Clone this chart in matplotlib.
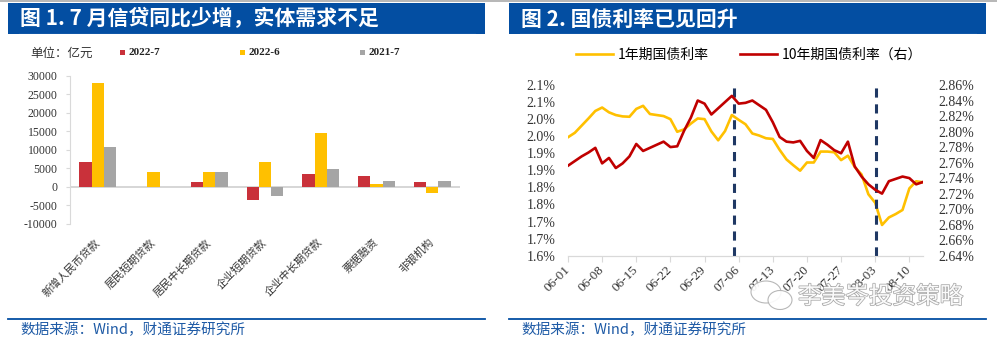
import numpy as np
import pandas as pd
import matplotlib
matplotlib.use('Agg')
import matplotlib.pyplot as plt
from matplotlib.patches import Rectangle, Ellipse
from matplotlib.lines import Line2D
import matplotlib.patheffects as pe

plt.rcParams['font.family'] = ['Noto Sans CJK SC', 'DejaVu Sans']

W, H = 997, 343

# ---- 图1 数据（亿元）----
categories = ['新增人民币贷款', '居民短期贷款', '居民中长期贷款', '企业短期贷款',
              '企业中长期贷款', '票据融资', '非银机构']
loan_2022_7 = [6790, -21, 1238, -3500, 3446, 2960, 1350]
loan_2022_6 = [28100, 4110, 4150, 6800, 14574, 760, -1700]
loan_2021_7 = [10800, -64, 3990, -2500, 4775, 1700, 1700]
series_names = ['2022-7', '2022-6', '2021-7']
bar_colors = ['#C9313A', '#FFC000', '#A5A5A5']

# ---- 图2 数据（%）----
dates = pd.bdate_range('2022-06-01', '2022-08-12')
yield_1y = [1.947, 1.960, 1.981, 2.002, 2.024, 2.034, 2.020, 2.012, 2.008, 2.007,
            2.030, 2.039, 2.015, 2.012, 2.009, 2.000, 1.963, 1.970, 1.987, 2.002,
            2.000, 1.964, 1.938, 1.965, 2.012, 1.998, 1.985, 1.958, 1.952, 1.944,
            1.942, 1.910, 1.882, 1.865, 1.849, 1.873, 1.873, 1.905, 1.905, 1.903,
            1.880, 1.893, 1.860, 1.838, 1.780, 1.755, 1.690, 1.712, 1.722, 1.734,
            1.797, 1.818, 1.815]
yield_10y = [2.756, 2.762, 2.768, 2.773, 2.779, 2.759, 2.766, 2.753, 2.759, 2.768,
             2.784, 2.775, 2.779, 2.783, 2.787, 2.780, 2.781, 2.801, 2.818, 2.840,
             2.836, 2.822, 2.830, 2.838, 2.846, 2.836, 2.837, 2.840, 2.834, 2.828,
             2.812, 2.793, 2.787, 2.786, 2.788, 2.775, 2.766, 2.789, 2.783, 2.776,
             2.772, 2.787, 2.755, 2.742, 2.732, 2.725, 2.720, 2.736, 2.739, 2.742,
             2.740, 2.732, 2.735]
left_ticks = [1.60, 1.65, 1.70, 1.75, 1.80, 1.85, 1.90, 1.95, 2.00, 2.05, 2.10]
left_labels = ['1.6%', '1.7%', '1.7%', '1.8%', '1.8%', '1.9%', '1.9%',
               '2.0%', '2.0%', '2.1%', '2.1%']
right_ticks = [2.64, 2.66, 2.68, 2.70, 2.72, 2.74, 2.76, 2.78, 2.80, 2.82, 2.84, 2.86]
vline_idx = [24.3, 45.1]


def fx(x):
    return x / W


def fy(y):
    return 1 - y / H


fig = plt.figure(figsize=(W / 100, H / 100), dpi=100)
fig.patch.set_facecolor('white')

serif = 'Liberation Serif'
blue = '#034EA2'
src_blue = '#1F5BA6'

# top grey strip
fig.patches.append(Rectangle((0, fy(2)), 1, 2 / H, transform=fig.transFigure,
                             color='#B8B8B8', lw=0))

# headers + footers
for x0, x1, title in [(8, 485, '图 1. 7 月信贷同比少增，实体需求不足'),
                      (509, 986, '图 2. 国债利率已见回升')]:
    fig.patches.append(Rectangle((fx(x0), fy(34)), (x1 - x0) / W, 31 / H,
                                 transform=fig.transFigure, color=blue, lw=0))
    fig.lines.append(Line2D([fx(x0 + 11), fx(x1 - 10)], [fy(33.5), fy(33.5)],
                            transform=fig.transFigure, color='white', lw=0.8))
    fig.text(fx(x0 + 12), fy(19), title, color='white', fontsize=15,
             fontweight='bold', va='center', ha='left')
    fig.lines.append(Line2D([fx(x0), fx(x1)], [fy(319), fy(319)],
                            transform=fig.transFigure, color=blue, lw=1.3))
    fig.text(fx(x0 + 12), fy(330), '数据来源：Wind，财通证券研究所', color=src_blue,
             fontsize=10.5, fontweight='medium', va='center', ha='left')

# ================= 图1 柱状图 =================
ax1 = fig.add_axes([fx(70), fy(224), 390 / W, (224 - 75.7) / H])
xpos = np.arange(len(categories))
bw = 0.22
for k, vals in enumerate([loan_2022_7, loan_2022_6, loan_2021_7]):
    ax1.bar(xpos + (k - 1) * bw, vals, width=bw, color=bar_colors[k], zorder=3)
ax1.axhline(0, color='#D0D0D0', lw=1.2, zorder=2)
ax1.set_xlim(-0.5, len(categories) - 0.5)
ax1.set_ylim(-10000, 30000)
ax1.set_yticks(np.arange(-10000, 30001, 5000))
ax1.set_yticklabels([str(v) for v in range(-10000, 30001, 5000)],
                    fontfamily=serif, fontsize=8.5, color='#333333')
ax1.set_xticks(xpos)
ax1.set_xticklabels(categories, rotation=45, ha='right', va='center',
                    rotation_mode='anchor', fontsize=7.8, color='#333333')
ax1.tick_params(axis='x', length=0, pad=12)
ax1.tick_params(axis='y', length=3, color='#D9D9D9', pad=6)
for s in ['top', 'right', 'bottom']:
    ax1.spines[s].set_visible(False)
ax1.spines['left'].set_color('#D9D9D9')

fig.text(fx(30), fy(53), '单位：亿元', fontsize=9, color='#333333', va='center')
for k, name in enumerate(series_names):
    lx = 120 + 120 * k
    fig.patches.append(Rectangle((fx(lx), fy(55)), 5 / W, 5 / H,
                                 transform=fig.transFigure, color=bar_colors[k], lw=0))
    fig.text(fx(lx + 8), fy(52.5), name, fontfamily=serif, fontsize=8,
             fontweight='bold', color='#222222', va='center')

# ================= 图2 折线图 =================
ax = fig.add_axes([fx(568), fy(255.7), 355 / W, 170.7 / H])
ax2 = ax.twinx()
idx = np.arange(len(dates))
l1, = ax.plot(idx, yield_1y, color='#FFC000', lw=1.9, label='1年期国债利率')
l2, = ax2.plot(idx, yield_10y, color='#C00000', lw=1.9, label='10年期国债利率（右）')
for v in vline_idx:
    ax2.axvline(v, ymin=0, ymax=1.02, color='#1F3864', lw=2.2,
                ls=(0, (3, 2.2)), clip_on=False, zorder=1)

ax.set_xlim(0, len(dates) - 1)
ax.set_ylim(1.60, 2.10)
ax2.set_ylim(2.64, 2.86)
ax.set_yticks(left_ticks)
ax.set_yticklabels(left_labels, fontfamily=serif, fontsize=10, color='#333333')
ax2.set_yticks(right_ticks)
ax2.set_yticklabels(['%.2f%%' % v for v in right_ticks], fontfamily=serif,
                    fontsize=10, color='#333333')
ax.tick_params(axis='y', length=0, pad=9)
ax2.tick_params(axis='y', length=0, pad=11)
xt = idx[::5]
ax.set_xticks(xt)
ax.set_xticklabels([dates[i].strftime('%m-%d') for i in xt], rotation=45,
                   ha='right', va='center', rotation_mode='anchor',
                   fontfamily=serif, fontsize=9.5, color='#333333')
ax.tick_params(axis='x', length=4, color='#D9D9D9', pad=5)
for a in (ax, ax2):
    for s in ['top', 'left', 'right']:
        a.spines[s].set_visible(False)
    a.spines['bottom'].set_color('#D9D9D9')

fig.legend(handles=[l1, l2], loc='center', bbox_to_anchor=(fx(749), fy(55)),
           ncol=2, frameon=False, fontsize=10, handlelength=2.7,
           handletextpad=0.35, columnspacing=2.2,
           prop={'family': ['Noto Sans CJK SC', 'DejaVu Sans'], 'size': 10})

# watermark
fig.patches.append(Ellipse((fx(766), fy(292)), 30 / W, 22 / H, transform=fig.transFigure,
                           facecolor='white', edgecolor='#B0B0B0', lw=0.8, alpha=0.9))
fig.patches.append(Ellipse((fx(780), fy(300)), 24 / W, 19 / H, transform=fig.transFigure,
                           facecolor='white', edgecolor='#B0B0B0', lw=0.8, alpha=0.9))
fig.text(fx(798), fy(297), '李美岑投资策略', fontsize=17, color='#FAFAFA', va='center',
         path_effects=[pe.withStroke(linewidth=1.1, foreground='#A8A8A8')])

fig.savefig('out.png', dpi=100, facecolor='white')
